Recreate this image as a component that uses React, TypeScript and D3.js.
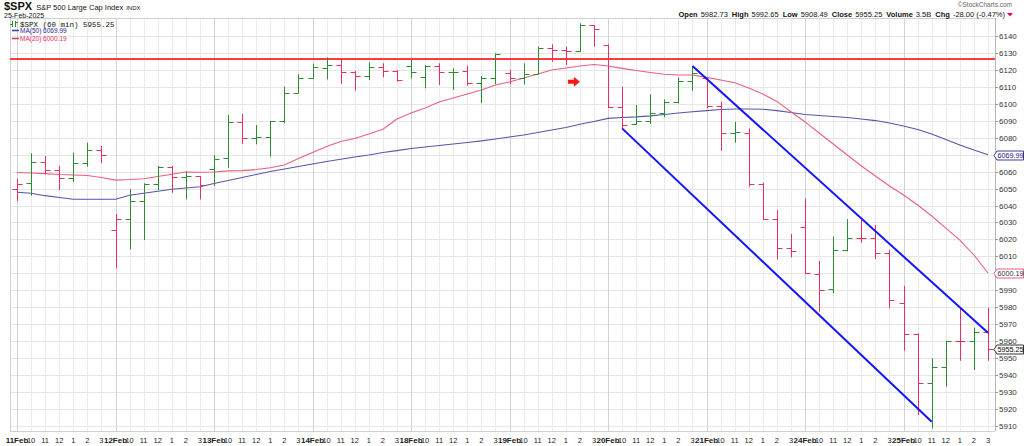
import React from 'react';
import * as d3 from 'd3';

// ---------- data ----------
const days = ['11Feb', '12Feb', '13Feb', '14Feb', '18Feb', '19Feb', '20Feb', '21Feb', '24Feb', '25Feb'];
const hourLabels = ['', '10', '11', '12', '1', '2', '3'];

const opens = [
  6049.9, 6053.1, 6065.7, 6060.8, 6056.0, 6064.9, 6072.6,
  6025.5, 6032.0, 6042.8, 6052.5, 6062.5, 6056.6, 6057.2,
  6061.3, 6068.0, 6089.3, 6079.6, 6080.2, 6089.8, 6106.2,
  6115.4, 6120.9, 6122.9, 6118.6, 6116.4, 6121.9, 6119.4,
  6122.5, 6116.0, 6122.5, 6118.6, 6119.4, 6112.1, 6115.0,
  6118.4, 6115.0, 6117.4, 6133.1, 6131.7, 6131.1, 6146.5,
  6134.7, 6098.3, 6088.1, 6090.0, 6094.8, 6101.2, 6113.6,
  6115.0, 6098.7, 6083.0, 6083.0, 6052.7, 6031.9, 6014.7,
  6027.1, 5999.6, 5990.5, 6013.6, 6021.0, 6020.6, 6012.1,
  5982.7, 5964.2, 5935.4, 5944.5, 5960.2, 5960.0, 5965.2,
];
const highs = [
  6055.6, 6070.8, 6069.2, 6063.3, 6071.2, 6077.0, 6075.1,
  6035.0, 6049.6, 6053.1, 6063.3, 6063.3, 6060.0, 6057.4,
  6069.8, 6093.4, 6094.0, 6087.5, 6089.8, 6110.1, 6117.4,
  6123.5, 6127.4, 6126.4, 6119.5, 6124.5, 6123.9, 6119.8,
  6125.8, 6122.9, 6123.9, 6120.9, 6122.5, 6116.4, 6129.8,
  6119.9, 6123.9, 6133.7, 6135.1, 6133.7, 6147.5, 6146.5,
  6135.0, 6110.1, 6099.3, 6105.6, 6102.6, 6115.6, 6121.9,
  6115.5, 6101.2, 6089.4, 6085.5, 6053.5, 6037.3, 6023.2,
  6044.2, 6007.4, 6021.6, 6031.9, 6031.4, 6028.5, 6013.7,
  5992.65, 5964.6, 5949.8, 5960.2, 5979.7, 5967.9, 5979.7,
];
const lows = [
  6042.8, 6045.8, 6058.4, 6049.1, 6054.0, 6062.9, 6064.9,
  6002.9, 6014.2, 6019.6, 6049.1, 6047.5, 6043.6, 6043.6,
  6051.5, 6062.3, 6076.3, 6076.1, 6068.8, 6088.5, 6106.2,
  6114.8, 6114.4, 6111.7, 6107.7, 6114.0, 6115.6, 6113.0,
  6115.0, 6109.1, 6111.1, 6108.1, 6110.7, 6100.3, 6111.5,
  6111.5, 6111.5, 6117.4, 6124.8, 6122.9, 6130.7, 6133.7,
  6097.5, 6085.5, 6087.5, 6088.1, 6092.0, 6100.3, 6107.7,
  6097.3, 6072.3, 6077.0, 6051.1, 6031.4, 6008.2, 6009.4,
  5999.6, 5977.3, 5988.2, 6013.0, 6018.0, 6008.4, 5979.3,
  5954.3, 5916.4, 5908.49, 5933.1, 5948.4, 5942.9, 5948.4,
];
const closes = [
  6052.7, 6065.7, 6060.8, 6056.0, 6064.9, 6072.6, 6069.8,
  6032.0, 6042.8, 6052.5, 6062.5, 6056.6, 6057.2, 6052.0,
  6067.6, 6089.3, 6079.6, 6080.2, 6089.8, 6106.2, 6115.4,
  6121.5, 6122.9, 6118.6, 6116.4, 6121.9, 6119.4, 6114.0,
  6118.6, 6122.5, 6118.6, 6119.0, 6112.1, 6115.0, 6129.4,
  6115.0, 6117.4, 6133.1, 6131.7, 6131.3, 6146.5, 6144.1,
  6098.3, 6087.5, 6090.0, 6094.8, 6101.2, 6113.6, 6118.4,
  6098.7, 6083.0, 6083.3, 6052.7, 6031.9, 6014.7, 6013.3,
  6000.0, 5990.1, 6013.6, 6021.0, 6020.6, 6012.1, 5984.2,
  5964.2, 5935.4, 5944.5, 5960.2, 5959.8, 5965.2, 5955.25,
];
const priorClose = 6066.4;

const ma20 = [
  6059.5, 6059.2, 6058.8, 6058.3, 6058.0, 6057.7, 6056.5,
  6055.0, 6055.3, 6055.8, 6057.1, 6058.4, 6059.8, 6059.6,
  6059.8, 6060.4, 6060.6, 6061.2, 6062.3, 6063.9, 6067.7,
  6071.3, 6074.8, 6077.8, 6079.5, 6082.2, 6085.0, 6091.0,
  6094.6, 6097.5, 6101.1, 6103.4, 6105.8, 6108.1, 6111.1,
  6112.9, 6115.2, 6117.6, 6119.9, 6121.1, 6122.3, 6123.2,
  6122.3, 6120.9, 6119.6, 6118.5, 6117.4, 6117.0, 6117.0,
  6115.6, 6114.0, 6112.4, 6109.3, 6105.8, 6101.4, 6095.3,
  6089.3, 6082.8, 6076.3, 6069.8, 6063.3, 6057.4, 6051.5,
  6046.2, 6040.3, 6033.8, 6026.7, 6019.6, 6010.8, 6000.19,
];
const ma50 = [
  6047.8, 6047.2, 6045.8, 6044.7, 6043.7, 6043.7, 6043.7,
  6043.7, 6046.0, 6047.2, 6048.4, 6049.6, 6050.3, 6051.1,
  6053.0, 6054.7, 6056.5, 6058.3, 6060.1, 6061.5, 6063.0,
  6064.5, 6066.0, 6067.3, 6068.6, 6069.8, 6071.3, 6072.4,
  6073.6, 6074.5, 6075.4, 6076.3, 6077.2, 6078.1, 6079.2,
  6080.4, 6081.6, 6083.1, 6084.5, 6086.0, 6087.9, 6089.6,
  6091.4, 6091.9, 6092.3, 6092.9, 6093.7, 6094.6, 6095.3,
  6096.0, 6096.6, 6096.9, 6096.9, 6096.8, 6096.0, 6094.9,
  6093.7, 6093.1, 6092.5, 6091.9, 6091.0, 6090.1, 6088.7,
  6086.9, 6084.8, 6082.2, 6078.9, 6075.7, 6072.7, 6069.99,
];

const yTicks = [5910, 5920, 5930, 5940, 5950, 5960, 5970, 5980, 5990, 6000, 6010, 6020, 6030,
  6040, 6050, 6060, 6070, 6080, 6090, 6100, 6110, 6120, 6130, 6140];

const resistanceLevel = 6126.4;
const channelUpper = [{ i: 48, v: 6122.3 }, { i: 69, v: 5964.9 }];
const channelLower = [{ i: 43, v: 6085.5 }, { i: 65, v: 5912.4 }];
const arrowMark = { i: 39.5, v: 6113 };

const headerStats = [
  ['Open', '5982.73'], ['High', '5992.65'], ['Low', '5908.49'], ['Close', '5955.25'],
  ['Volume', '3.5B'], ['Chg', '-28.00 (-0.47%)'],
];

// ---------- layout ----------
const W = 1024, H = 446;
const L = 10, R = 995, T = 18, B = 431;
const FONT = '"Liberation Sans", Arial, sans-serif';

const GREEN = '#2f8a34';
const RED = '#e2325f';

export default function App() {
  const n = closes.length;
  const x = d3.scaleLinear().domain([0, n - 1]).range([17, 988]);
  const y = d3.scaleLinear().domain([5910, 6140]).range([425.85, 36]);
  const cx = (i: number) => Math.round(x(i)) + 0.5;
  const cy = (v: number) => Math.round(y(v)) + 0.5;

  const line = d3.line<number>().x((_, i) => x(i)).y((d) => y(d)).curve(d3.curveLinear);

  const arrowX = x(arrowMark.i);
  const arrowY = y(arrowMark.v);

  const boxValues = [ma50[n - 1], ma20[n - 1], closes[n - 1]];
  const hiddenTicks = yTicks.filter((t) => boxValues.some((b) => Math.abs(y(t) - y(b)) < 4));

  const box = (v: number, stroke: string, text: string, color: string) => {
    const yy = Math.round(y(v)) + 0.5;
    const p = `M${R - 1},${yy} L${R + 2},${yy - 4.5} L${1023.5},${yy - 4.5} L${1023.5},${yy + 4.5} L${R + 2},${yy + 4.5} Z`;
    return (
      <g key={text}>
        <path d={p} fill="#fff" stroke={stroke} strokeWidth={1} />
        <text x={R + 2.5} y={yy + 2.8} fontSize={7.2} fill={color} fontFamily={FONT}>{text}</text>
      </g>
    );
  };

  return (
    <svg width={W} height={H} style={{ position: 'absolute', left: 0, top: 0, background: '#fff' }}>
      <rect x={0} y={0} width={W} height={H} fill="#fff" />
      {/* horizontal grid */}
      {yTicks.map((t) => (
        <line key={'h' + t} x1={L} x2={R} y1={cy(t)} y2={cy(t)} stroke="#e6e6e6" strokeWidth={1} />
      ))}
      {/* vertical grid */}
      {closes.map((_, i) => (
        <line key={'v' + i} x1={cx(i)} x2={cx(i)} y1={T} y2={B}
          stroke={i % 7 === 0 ? '#d2d2d2' : '#ebebeb'} strokeWidth={1} />
      ))}
      {/* frame */}
      <line x1={L + 0.5} x2={L + 0.5} y1={T} y2={B} stroke="#d0d0d0" />
      <line x1={L} x2={R} y1={T + 0.5} y2={T + 0.5} stroke="#d0d0d0" />
      <line x1={L} x2={R} y1={B + 0.5} y2={B + 0.5} stroke="#d0d0d0" />
      <line x1={R + 0.5} x2={R + 0.5} y1={T} y2={B} stroke="#b8b8b8" />

      {/* resistance line */}
      <line x1={L} x2={R} y1={y(resistanceLevel)} y2={y(resistanceLevel)} stroke="#ff3b3b" strokeWidth={2} />

      {/* moving averages */}
      <path d={line(ma50) || ''} fill="none" stroke="#5656a8" strokeWidth={1.1} />
      <path d={line(ma20) || ''} fill="none" stroke="#e8607e" strokeWidth={1.1} />

      {/* OHLC bars */}
      {closes.map((c, i) => {
        const prev = i === 0 ? priorClose : closes[i - 1];
        const col = c >= prev ? GREEN : RED;
        const xx = cx(i);
        return (
          <g key={'b' + i} stroke={col} strokeWidth={1}>
            <line x1={xx} x2={xx} y1={y(highs[i])} y2={y(lows[i])} />
            <line x1={xx - 5} x2={xx} y1={cy(opens[i])} y2={cy(opens[i])} />
            <line x1={xx} x2={xx + 5} y1={cy(c)} y2={cy(c)} />
          </g>
        );
      })}

      {/* channel lines */}
      <line x1={x(channelUpper[0].i)} y1={y(channelUpper[0].v)} x2={x(channelUpper[1].i)} y2={y(channelUpper[1].v)}
        stroke="#1414ff" strokeWidth={2} />
      <line x1={x(channelLower[0].i)} y1={y(channelLower[0].v)} x2={x(channelLower[1].i)} y2={y(channelLower[1].v)}
        stroke="#1414ff" strokeWidth={2} />

      {/* red arrow */}
      <path d={`M${arrowX - 5},${arrowY - 2} L${arrowX + 1},${arrowY - 2} L${arrowX + 1},${arrowY - 5} L${arrowX + 7},${arrowY} L${arrowX + 1},${arrowY + 5} L${arrowX + 1},${arrowY + 2} L${arrowX - 5},${arrowY + 2} Z`}
        fill="#ff1a1a" />

      {/* right axis */}
      {yTicks.map((t) => (
        <g key={'yt' + t}>
          <line x1={R} x2={R + 3} y1={cy(t)} y2={cy(t)} stroke="#999" />
          {hiddenTicks.includes(t) ? null : (
            <text x={R + 4} y={y(t) + 3} fontSize={8} fill="#333" fontFamily={FONT}>{t}</text>
          )}
        </g>
      ))}
      {box(ma50[n - 1], '#3a3aa0', ma50[n - 1].toFixed(2), '#1a1a70')}
      {box(ma20[n - 1], '#e8607e', ma20[n - 1].toFixed(2), '#333')}
      {box(closes[n - 1], '#333', closes[n - 1].toFixed(2), '#000')}

      {/* bottom axis */}
      {closes.map((_, i) => {
        const d = Math.floor(i / 7);
        const h = i % 7;
        const isDay = h === 0;
        return (
          <text key={'xl' + i} x={x(i)} y={443} textAnchor="middle" fontSize={isDay ? 8 : 7.5}
            fontWeight={isDay ? 'bold' : 'normal'} fill="#222" fontFamily={FONT}>
            {isDay ? days[d] : hourLabels[h]}
          </text>
        );
      })}

      {/* header */}
      <text x={4} y={10} fontFamily={FONT} fill="#111">
        <tspan fontSize={11} fontWeight="bold">$SPX</tspan>
        <tspan fontSize={7.5} dx={4}>S&amp;P 500 Large Cap Index</tspan>
        <tspan fontSize={6} dx={3}>INDX</tspan>
      </text>
      <text x={4} y={18} fontSize={7} fill="#111" fontFamily={FONT}>25-Feb-2025</text>

      {/* legend */}
      <g>
        <line x1={12.5} x2={12.5} y1={21} y2={27} stroke={GREEN} />
        <line x1={10} x2={12.5} y1={24.5} y2={24.5} stroke={GREEN} />
        <line x1={15.5} x2={15.5} y1={21} y2={27} stroke={GREEN} />
        <line x1={15.5} x2={18} y1={22.5} y2={22.5} stroke={GREEN} />
        <text x={20} y={27} fontSize={7.5} fill="#111" fontFamily='"Liberation Mono", monospace'>$SPX (60 min) 5955.25</text>
        <line x1={12} x2={19} y1={30.5} y2={30.5} stroke="#3a3aa0" strokeWidth={1.5} />
        <text x={20} y={33} fontSize={6.5} fill="#2a2a90" fontFamily={FONT}>MA(50) 6069.99</text>
        <line x1={12} x2={19} y1={38.5} y2={38.5} stroke="#e03060" strokeWidth={1.5} />
        <text x={20} y={41} fontSize={6.5} fill="#e03060" fontFamily={FONT}>MA(20) 6000.19</text>
      </g>

      {/* top right */}
      <text x={1012} y={7} textAnchor="end" fontSize={6.5} fill="#666" fontFamily={FONT}>©StockCharts.com</text>
      <text x={1005} y={17} textAnchor="end" fontSize={7.5} fill="#111" fontFamily={FONT}>
        {headerStats.map(([k, v], idx) => (
          <tspan key={k}>
            <tspan fontWeight="bold" dx={idx === 0 ? 0 : 4}>{k}</tspan>
            <tspan dx={3}>{v}</tspan>
          </tspan>
        ))}
      </text>
      <path d="M1007,13 L1013,13 L1010,16.5 Z" fill="#e0103a" />
    </svg>
  );
}
